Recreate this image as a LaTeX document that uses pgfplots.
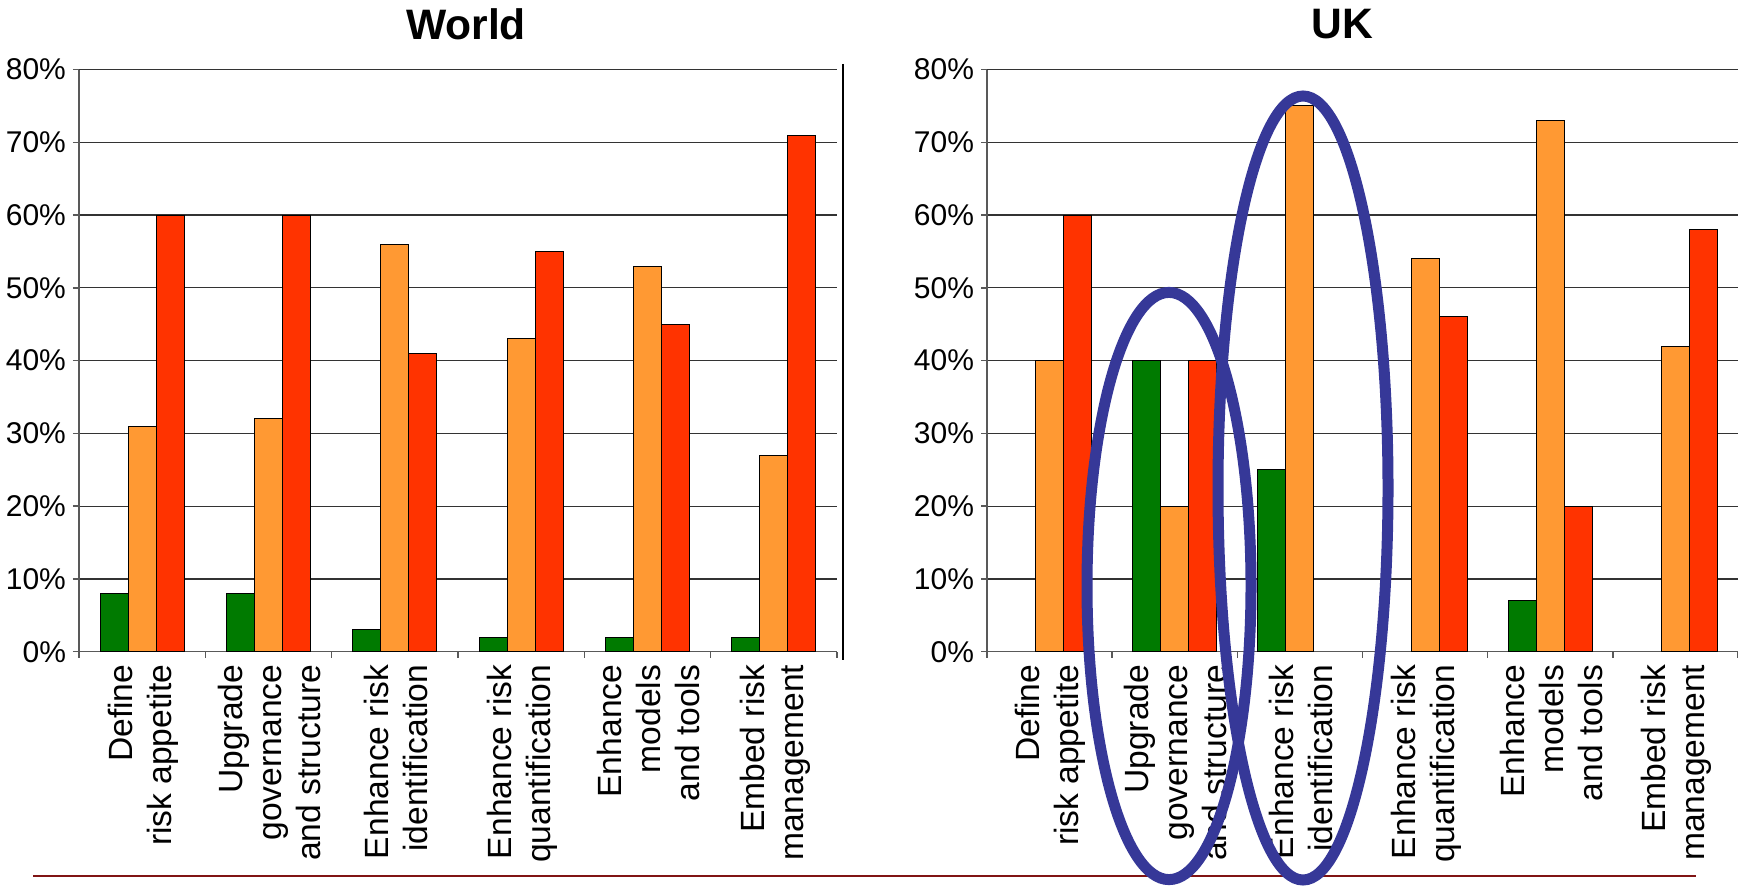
\documentclass[border=0pt]{standalone}
\usepackage{fontspec}
\setmainfont{Liberation Sans}
\usepackage{pgfplots}
\pgfplotsset{compat=1.18}
\definecolor{cgreen}{RGB}{0,122,0}
\definecolor{corange}{RGB}{255,153,51}
\definecolor{cred}{RGB}{255,51,0}
\definecolor{cblue}{RGB}{54,56,152}
\definecolor{cline}{RGB}{128,20,20}
\pgfplotsset{
  riskaxis/.style={
    scale only axis, height=291.1pt,
    ymin=0, ymax=80, xmin=-0.5, xmax=5.5,
    ytick={0,10,...,80},
    yticklabel={\pgfmathprintnumber{\tick}\%},
    /pgf/number format/assume math mode=true,
    axis x line*=bottom, axis y line*=left,
    ymajorgrids, grid style={black!80, line width=0.6pt},
    axis line style={black!65, line width=0.7pt},
    tick style={black!65, line width=0.7pt},
    tick align=outside, major tick length=3pt,
    xtick={-0.5,0.5,...,5.5}, xticklabels={},
    extra x ticks={0,1,2,3,4,5},
    extra x tick labels={{Define\\risk appetite},{Upgrade\\governance\\and structure},{Enhance risk\\identification},{Enhance risk\\quantification},{Enhance\\models\\and tools},{Embed risk\\management}},
    extra x tick style={major tick length=0pt, grid=none},
    xticklabel style={yshift=-3pt, xshift=0.5pt, rotate=90, anchor=east, align=right, font=\fontsize{16.8}{19.5}\selectfont},
    yticklabel style={font=\fontsize{15}{18}\selectfont},
    ybar, bar width=14pt,
    every axis plot/.append style={draw=black, line width=0.5pt},
  }
}
\begin{document}
\begin{tikzpicture}
\useasboundingbox (0pt,0pt) rectangle (869pt,442.5pt);
\clip (0pt,0pt) rectangle (869pt,442.5pt);
\begin{axis}[riskaxis, at={(39.5pt,116.65pt)}, anchor=south west, width=379pt]
\addplot[fill=cgreen, bar shift=-14pt] coordinates {(0,8) (1,8) (2,3) (3,2) (4,2) (5,2)};
\addplot[fill=corange, bar shift=0pt] coordinates {(0,31) (1,32) (2,56) (3,43) (4,53) (5,27)};
\addplot[fill=cred, bar shift=14pt] coordinates {(0,60) (1,60) (2,41) (3,55) (4,45) (5,71)};
\end{axis}
\begin{axis}[riskaxis, at={(493.5pt,116.65pt)}, anchor=south west, width=375.5pt]
\addplot[fill=cgreen, bar shift=-14pt] coordinates {(1,40) (2,25) (4,7)};
\addplot[fill=corange, bar shift=0pt] coordinates {(0,40) (1,20) (2,75) (3,54) (4,73) (5,42)};
\addplot[fill=cred, bar shift=14pt] coordinates {(0,60) (1,40) (3,46) (4,20) (5,58)};
\end{axis}
\node[anchor=base, font=\fontsize{21.3}{24}\selectfont\bfseries] at (233pt,422.5pt) {World};
\node[anchor=base, font=\fontsize{21.3}{24}\selectfont\bfseries] at (671pt,423pt) {UK};
\draw[black, line width=1pt] (421.5pt,410.5pt) -- (421.5pt,112.5pt);
\draw[cline, line width=1.2pt] (16.5pt,4.5pt) -- (848pt,4.5pt);
\draw[cblue, line width=5.5pt] (584.5pt,149.5pt) ellipse [x radius=41pt, y radius=146.8pt];
\draw[cblue, line width=5.5pt] (651.5pt,198.5pt) ellipse [x radius=42.5pt, y radius=196pt];
\end{tikzpicture}
\end{document}
